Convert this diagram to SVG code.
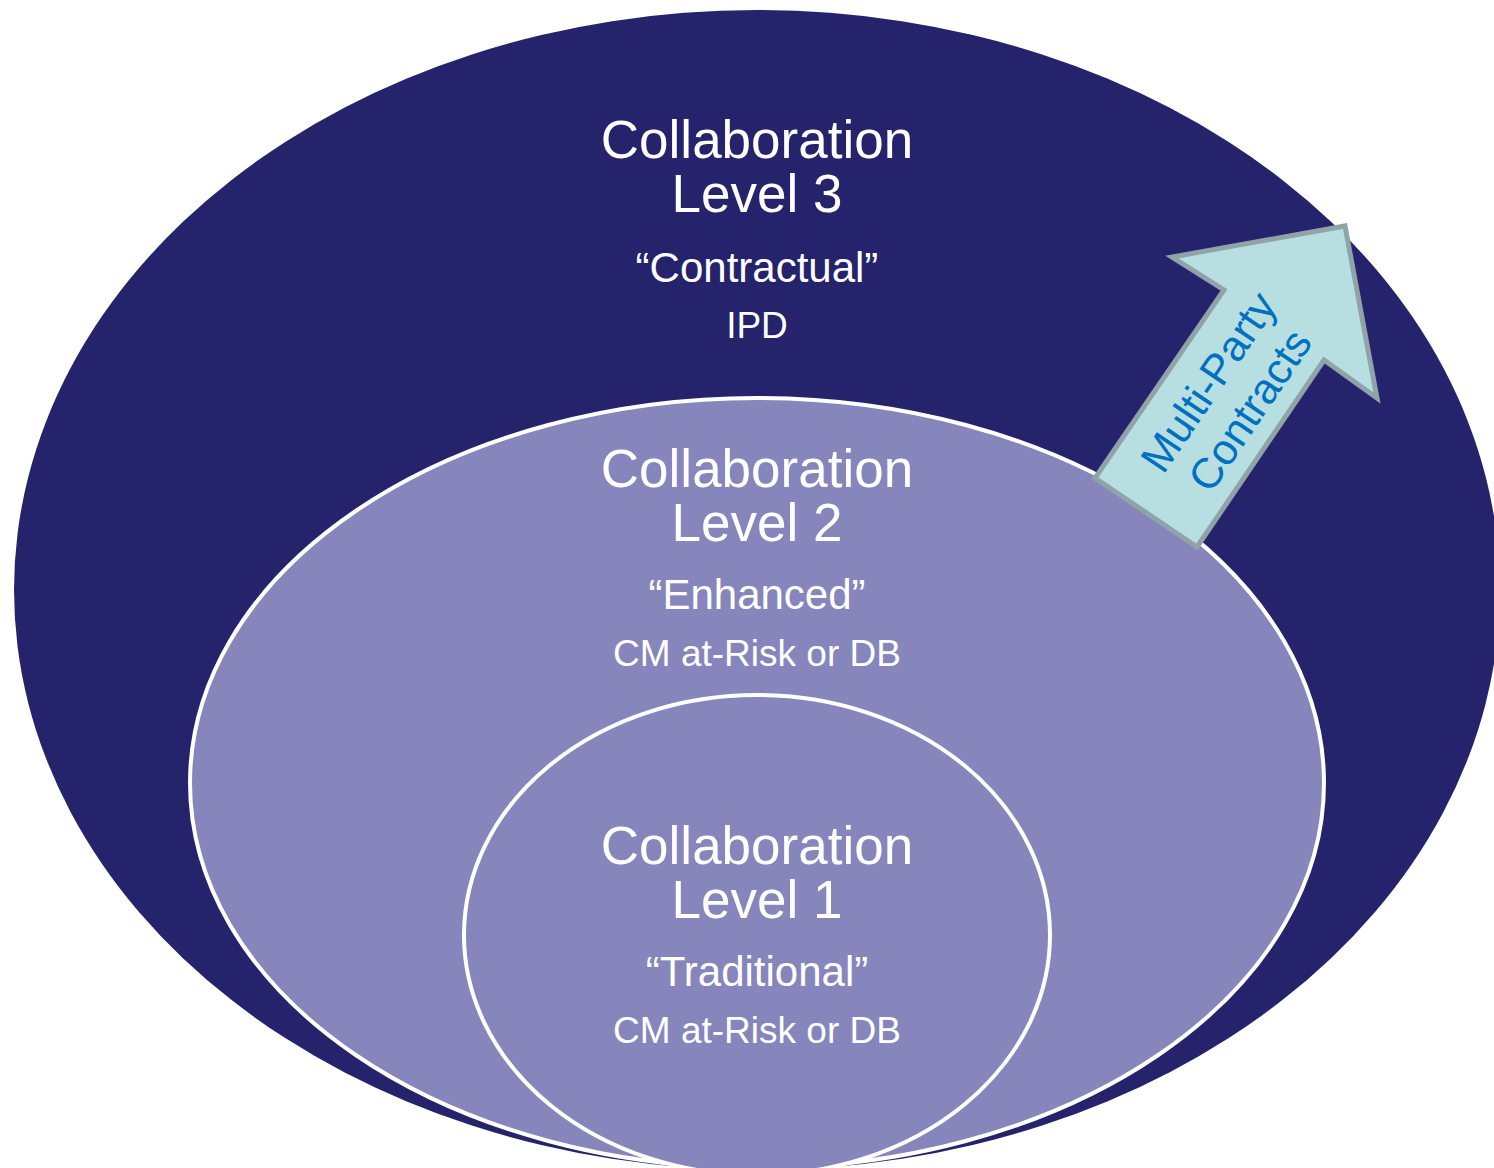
<svg xmlns="http://www.w3.org/2000/svg" width="1494" height="1168" viewBox="0 0 1494 1168">
<style>
.t{font-family:"Liberation Sans",Arial,sans-serif;fill:#fff;text-anchor:middle}
.big{font-size:53px}
.q{font-size:42px}
.mid{font-size:37px}
.arr{font-family:"Liberation Sans",Arial,sans-serif;fill:#0070C0;font-size:43px;text-anchor:middle}
</style>
<rect width="1494" height="1168" fill="#fff"/>
<g id="level3">
<ellipse cx="757" cy="590" rx="743" ry="580" fill="#24236C"/>
<text class="t big" x="757" y="158">Collaboration</text>
<text class="t big" x="757" y="212">Level 3</text>
<text class="t q" x="757" y="282">“Contractual”</text>
<text class="t mid" x="757" y="338">IPD</text>
</g>
<g id="level2">
<ellipse cx="757" cy="783" rx="567" ry="385" fill="#8686BC" stroke="#fff" stroke-width="4"/>
<text class="t big" x="757" y="487">Collaboration</text>
<text class="t big" x="757" y="541">Level 2</text>
<text class="t q" x="757" y="609">“Enhanced”</text>
<text class="t mid" x="757" y="666">CM at-Risk or DB</text>
</g>
<g id="level1">
<ellipse cx="757" cy="935" rx="293" ry="240" fill="#8686BC" stroke="#fff" stroke-width="4"/>
<text class="t big" x="757" y="864">Collaboration</text>
<text class="t big" x="757" y="918">Level 1</text>
<text class="t q" x="757" y="986">“Traditional”</text>
<text class="t mid" x="757" y="1043">CM at-Risk or DB</text>
</g>
<g id="connectors">
<g id="arrow">
<polygon points="1345,226 1377,398 1324,360 1197,547 1095,478 1224,290 1172,257" fill="#B7DFE2" stroke="#8FA3A8" stroke-width="5" stroke-linejoin="miter"/>
<g transform="translate(1229,396) rotate(-56)">
<text class="arr" x="0" y="-10">Multi-Party</text>
<text class="arr" x="0" y="40">Contracts</text>
</g>
</g>
</g>
</svg>
